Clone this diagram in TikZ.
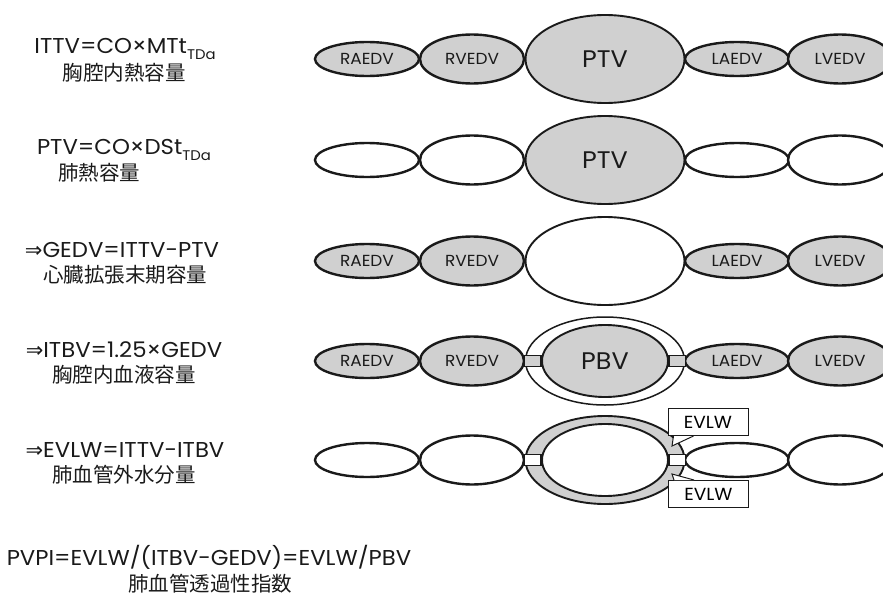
\documentclass[tikz,border=0pt]{standalone}
\usepackage{fontspec}
\setmainfont{Poppins}[FakeStretch=1.06]
\newfontfamily\jpfont{Noto Sans CJK JP}
\newfontfamily\symfont{DejaVu Sans}
\usetikzlibrary{shapes.geometric, calc}
\definecolor{ink}{HTML}{1A1A1A}
\definecolor{dots}{HTML}{D0D0D0}
\tikzset{
  chamber/.style={
    ellipse, draw=ink, line width=2.4pt, minimum width=104pt, inner sep=0pt,
    font=\fontsize{16}{16}\selectfont, text=ink,
  },
  shaded/.style={fill=dots},
  plain/.style={fill=white},
  big/.style={
    ellipse, draw=ink, line width=1.9pt, minimum width=159pt, minimum height=88pt,
    inner sep=0pt, font=\fontsize{24}{24}\selectfont, text=ink,
  },
  core/.style={big, minimum width=126pt, minimum height=72pt},
  bridge/.style={draw=ink, line width=1.4pt},
  %
  tagbox/.style={draw=ink, line width=1pt, fill=white, minimum width=80pt,
                 minimum height=27pt, inner sep=0pt, font=\fontsize{17.5}{17.5}\selectfont},
  pointer/.style={draw=ink, line width=1pt, fill=white, line join=miter},
  %
  formula/.style={font=\fontsize{21.5}{21.5}\selectfont, text=ink, inner sep=0pt},
  kanji/.style={font=\jpfont\fontsize{20.5}{20.5}\selectfont, text=ink, inner sep=0pt},
}
\newcommand{\tda}{\raisebox{-0.3em}{\fontsize{14}{14}\selectfont TDa}}
\newcommand{\impl}{{\symfont\fontsize{21}{21}\selectfont ⇒}}

\begin{document}
\begin{tikzpicture}[x=1pt, y=-1pt]
\useasboundingbox (0,0) rectangle (883,594);

% ---------------------------------------------------------------
% left: formulas
% ---------------------------------------------------------------
\node[formula] (f1) at (125,49)  {ITTV=CO×MTt\tda};
\node[kanji]   (k1) at (124,73)  {胸腔内熱容量};
\node[formula] (f2) at (124,150) {PTV=CO×DSt\tda};
\node[kanji]   (k2) at (99,173)  {肺熱容量};
\node[formula] (f3) at (122,250) {\impl GEDV=ITTV-PTV};
\node[kanji]   (k3) at (125,275) {心臓拡張末期容量};
\node[formula] (f4) at (124,350) {\impl ITBV=1.25×GEDV};
\node[kanji]   (k4) at (124,375) {胸腔内血液容量};
\node[formula] (f5) at (125,450) {\impl EVLW=ITTV-ITBV};
\node[kanji]   (k5) at (124,475) {肺血管外水分量};
\node[formula] (f6) at (209,557) {PVPI=EVLW/(ITBV-GEDV)=EVLW/PBV};
\node[kanji]   (k6) at (210,583.5) {肺血管透過性指数};

% ---------------------------------------------------------------
% right: chambers, row by row
% ---------------------------------------------------------------
\foreach \r/\y in {1/59, 3/261, 4/361}
  \foreach \n/\x/\h/\t in {ra/367/34/RAEDV, rv/472/49/RVEDV, la/737/34/LAEDV, lv/840/49/LVEDV}
    \node[chamber, shaded, minimum height=\h] (\n\r) at (\x,\y) {\t};
\foreach \r/\y in {2/160, 5/460}
  \foreach \n/\x/\h in {ra/367/34, rv/472/49, la/737/34, lv/840/49}
    \node[chamber, plain, minimum height=\h] (\n\r) at (\x,\y) {};

% lungs
\node[big, shaded] (ptv1) at (605,59)  {PTV};
\node[big, shaded] (ptv2) at (605,160) {PTV};
\node[big, plain]  (gap3) at (605,261) {};

% blood inside the lungs
\node[big, plain, line width=1.5pt] (itbv4) at (605,361) {};
\node[core, plain, draw=none] (pbv4) at (605,361) {};
\draw[bridge, fill=dots] ($(itbv4.west)+(0,-5.5)$) rectangle ($(pbv4.west)+(0,5.5)$);
\draw[bridge, fill=dots] ($(pbv4.east)+(0,-5.5)$) rectangle ($(itbv4.east)+(0,5.5)$);
\node[core, shaded] (pbv4) at (605,361) {PBV};

% water outside the vessels
\node[big, shaded] (ring5) at (605,460) {};
\node[core, plain, draw=none] (evlw5) at (605,460) {};
\draw[bridge, fill=white] ($(ring5.west)+(0,-5.5)$) rectangle ($(evlw5.west)+(0,5.5)$);
\draw[bridge, fill=white] ($(evlw5.east)+(0,-5.5)$) rectangle ($(ring5.east)+(0,5.5)$);
\node[core, plain] (evlw5) at (605,460) {};

% callouts
\node[tagbox] (evu) at (708,422) {EVLW};
\node[tagbox] (evd) at (708.5,494) {EVLW};
\coordinate (pu) at (672,446);
\coordinate (pd) at (672,474);
\draw[pointer] ($(evu.south west)+(6,0)$) -- (pu) -- ($(evu.south west)+(26,0)$);
\draw[pointer] ($(evd.north west)+(6,0)$) -- (pd) -- ($(evd.north west)+(26,0)$);

\end{tikzpicture}
\end{document}
